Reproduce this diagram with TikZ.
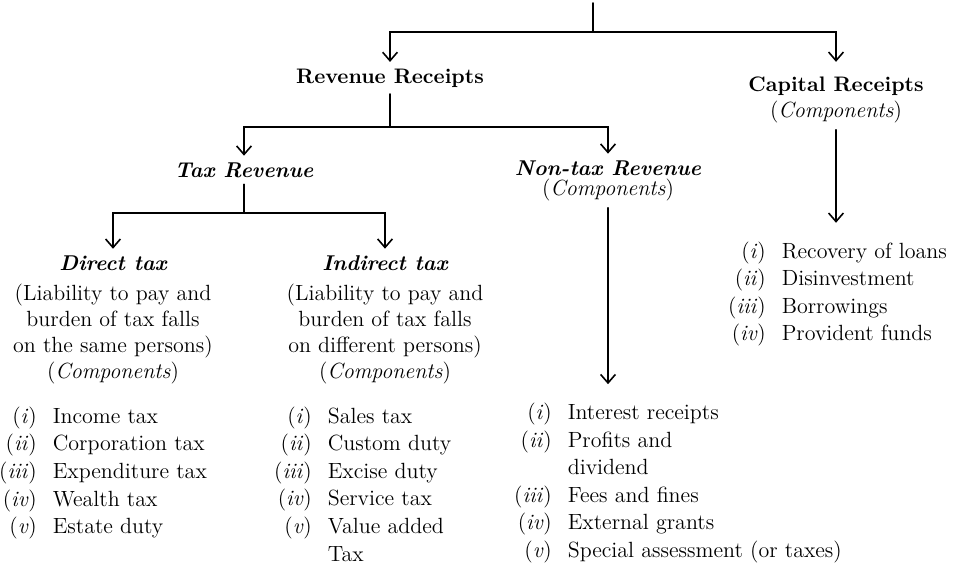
\documentclass[tikz,border=0pt]{standalone}
\usepackage{tikz}
\usetikzlibrary{arrows.meta}
\newcommand{\rn}[1]{\llap{(\textit{#1})\hspace{8pt}}}
\begin{document}
\begin{tikzpicture}[x=0.5pt,y=-0.5pt,>={Straight Barb[length=1.5mm,width=2.6mm]},line width=0.8pt,line cap=round,
  font=\fontsize{11}{13}\selectfont,
  head/.style={font=\fontsize{10.5}{13}\selectfont\bfseries,inner sep=3pt},
  subhead/.style={font=\fontsize{10.7}{13}\selectfont\bfseries\itshape,inner sep=3pt},
  note/.style={align=center,inner sep=3pt},
  items/.style={align=left,anchor=west,inner xsep=0pt,inner ysep=9pt,font=\fontsize{11}{13.8}\selectfont}]
\useasboundingbox (0,0) rectangle (956,565);
\coordinate (root) at (593,3);
\coordinate (b1) at (593,32);
\coordinate (b2) at (390,127);
\coordinate (b3) at (244,213);
\node[head] (rev) at (390,78) {Revenue Receipts};
\node[head] (cap) at (836,86) {Capital Receipts};
\node[note] (capc) at (836,112) {(\textit{Components})};
\node[subhead] (tax) at (244,170) {Tax Revenue};
\node[subhead] (ntax) at (608,168) {Non-tax Revenue};
\node[note] (ntaxc) at (608,190) {(\textit{Components})};
\node[subhead] (dir) at (113,263) {Direct tax};
\node[note] (dirc) at (113,334) {(Liability to pay and\\burden of tax falls\\on the same persons)\\(\textit{Components})};
\node[subhead] (ind) at (385,263) {Indirect tax};
\node[note] (indc) at (385,334) {(Liability to pay and\\burden of tax falls\\on different persons)\\(\textit{Components})};
\node[items] (dirl) at (52,473) {\rn{i}Income tax\\\rn{ii}Corporation tax\\\rn{iii}Expenditure tax\\\rn{iv}Wealth tax\\\rn{v}Estate duty};
\node[items] (indl) at (327,484) {\rn{i}Sales tax\\\rn{ii}Custom duty\\\rn{iii}Excise duty\\\rn{iv}Service tax\\\rn{v}Value added\\Tax};
\node[items] (ntl) at (567,483) {\rn{i}Interest receipts\\\rn{ii}Profits and\\dividend\\\rn{iii}Fees and fines\\\rn{iv}External grants\\\rn{v}Special assessment (or taxes)};
\node[items] (capl) at (781,294) {\rn{i}Recovery of loans\\\rn{ii}Disinvestment\\\rn{iii}Borrowings\\\rn{iv}Provident funds};
% connectors
\draw (root) -- (b1);
\draw[->] (b1) -| (rev);
\draw[->,shorten >=4pt] (b1) -| (cap);
\draw (rev) -- (b2);
\draw[->] (b2) -| (tax);
\draw[->] (b2) -| (ntax);
\draw (tax) -- (b3);
\draw[->] (b3) -| (dir);
\draw[->] (b3) -| (ind);
\draw[->] (ntaxc) -- (ntaxc |- ntl.north);
\draw[->] (capc) -- (capc |- capl.north);
\end{tikzpicture}
\end{document}
